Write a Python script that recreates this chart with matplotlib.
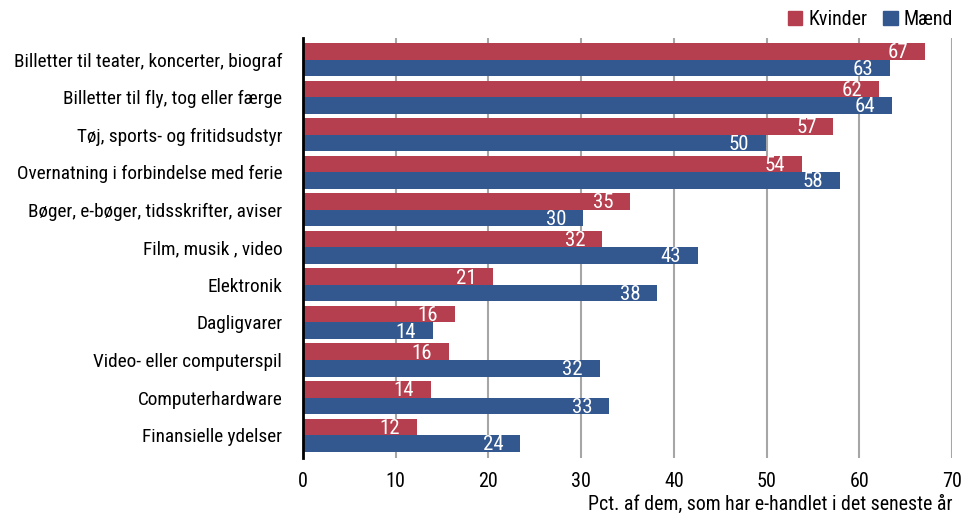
import numpy as np
import matplotlib.pyplot as plt
from matplotlib.patches import Patch

# DATA
categories = ["Billetter til teater, koncerter, biograf",
              "Billetter til fly, tog eller færge",
              "Tøj, sports- og fritidsudstyr",
              "Overnatning i forbindelse med ferie",
              "Bøger, e-bøger, tidsskrifter, aviser",
              "Film, musik , video",
              "Elektronik",
              "Dagligvarer",
              "Video- eller computerspil",
              "Computerhardware",
              "Finansielle ydelser"]
kvinder = [67.1, 62.1, 57.2, 53.8, 35.3, 32.3, 20.5, 16.4, 15.7, 13.8, 12.3]
maend = [63.3, 63.5, 49.9, 57.9, 30.2, 42.6, 38.2, 14.0, 32.0, 33.0, 23.4]
kvinder_lbl = [67, 62, 57, 54, 35, 32, 21, 16, 16, 14, 12]
maend_lbl = [63, 64, 50, 58, 30, 43, 38, 14, 32, 33, 24]

RED = '#b53f4e'
BLUE = '#33578f'

plt.rcParams['font.family'] = ['Roboto Condensed', 'Open Sans Condensed',
                               'DejaVu Sans Condensed', 'Liberation Sans']

fig = plt.figure(figsize=(9.63, 5.18), dpi=100)
ax = fig.add_axes([0.3146, 0.1158, 0.6740, 0.8108])

y = np.arange(len(categories))
h = 0.44
b1 = ax.barh(y - h/2, kvinder, height=h, color=RED, zorder=3)
b2 = ax.barh(y + h/2, maend, height=h, color=BLUE, zorder=3)

for bars, lbls in [(b1, kvinder_lbl), (b2, maend_lbl)]:
    for r, l in zip(bars, lbls):
        ax.annotate(str(l), (r.get_width(), r.get_y() + r.get_height()/2),
                    xytext=(-12, -1), textcoords='offset points',
                    ha='right', va='center', color='white', fontsize=15, zorder=4)

ax.set_xlim(0, 70)
ax.set_ylim(10.61, -0.573)
ax.set_xticks(range(0, 71, 10))
ax.set_yticks(y)
ax.set_yticklabels(categories, fontsize=13.9)
ax.tick_params(axis='both', length=0)
ax.tick_params(axis='x', labelsize=14.5, pad=10)
ax.tick_params(axis='y', pad=15)
ax.xaxis.grid(True, color='#a6a6a6', lw=1.5, zorder=0)
for s in ['top', 'right', 'bottom']:
    ax.spines[s].set_visible(False)
ax.spines['left'].set_linewidth(2)
ax.spines['left'].set_zorder(5)

ax.set_xlabel('Pct. af dem, som har e-handlet i det seneste år', fontsize=14.3,
              loc='right', labelpad=3)

handles = [Patch(color=RED, label='Kvinder'), Patch(color=BLUE, label='Mænd')]
fig.legend(handles=handles, loc='upper right', bbox_to_anchor=(1.0, 1.0), ncol=2,
           frameon=False, fontsize=14.5, handlelength=0.7, handleheight=0.7,
           handletextpad=0.3, columnspacing=0.8, borderaxespad=0.1)

fig.savefig('out.png', dpi=100)
